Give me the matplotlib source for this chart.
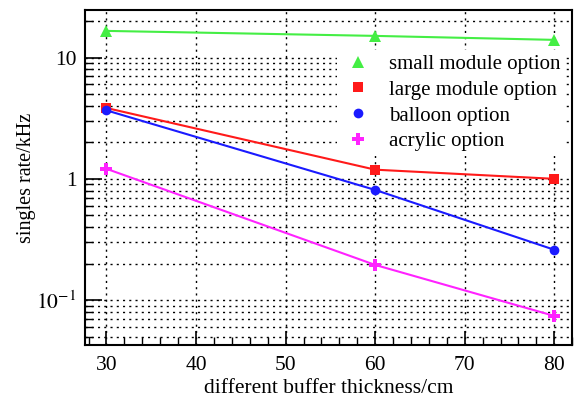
import matplotlib
matplotlib.use("Agg")
import matplotlib.pyplot as plt
from matplotlib.ticker import FixedLocator, FixedFormatter, LogLocator, NullFormatter, MultipleLocator

plt.rcParams['font.family'] = ['Liberation Serif', 'DejaVu Serif']
plt.rcParams['mathtext.fontset'] = 'stix'

thickness = [30, 60, 80]
small_module = [16.6, 15.1, 14.0]
large_module = [3.84, 1.19, 1.0]
balloon = [3.67, 0.81, 0.26]
acrylic = [1.21, 0.195, 0.074]
labels = ["small module option", "large module option", "balloon option", "acrylic option"]

fig = plt.figure(figsize=(5.78, 3.99), dpi=100)
ax = fig.add_axes([0.147, 0.135, 0.843, 0.84])

series = [
    (small_module, '#44ee44', '^', 8),
    (large_module, '#ff1a1a', 's', 7),
    (balloon, '#1a1aff', 'o', 7),
    (acrylic, '#ff22ff', 'P', 8),
]
for (vals, col, mk, ms), lab in zip(series, labels):
    ax.plot(thickness, vals, color=col, lw=1.5, zorder=3)
    ax.plot(thickness, vals, linestyle='none', marker=mk, color=col, ms=ms,
            markeredgewidth=0, label=lab, zorder=4)

ax.set_yscale('log')
ax.set_xlim(27.6, 82.0)
ax.set_ylim(0.0425, 24.7)

ax.yaxis.set_major_locator(FixedLocator([0.1, 1, 10]))
ax.yaxis.set_major_formatter(FixedFormatter([r'$10^{-1}$', '1', '10']))
ax.yaxis.set_minor_locator(LogLocator(base=10, subs=range(2, 10)))
ax.yaxis.set_minor_formatter(NullFormatter())
ax.xaxis.set_major_locator(MultipleLocator(10))
ax.xaxis.set_minor_locator(MultipleLocator(2))

ax.grid(True, which='major', axis='x', linestyle=(0, (1.5, 3)), color='black', lw=1.0)
ax.grid(True, which='both', axis='y', linestyle=(0, (1.5, 3)), color='black', lw=1.0)

ax.tick_params(axis='both', which='major', direction='in', length=12, width=1.2,
               labelsize=15.5, top=False, right=False)
ax.tick_params(axis='both', which='minor', direction='in', length=6, width=1.0,
               top=False, right=False)
ax.tick_params(axis='x', which='major', length=10, pad=8)
ax.tick_params(axis='y', which='major', pad=6)
for s in ax.spines.values():
    s.set_linewidth(1.5)

ax.set_xlabel("different buffer thickness/cm", fontsize=15.5, labelpad=3)
ax.set_ylabel("singles rate/kHz", fontsize=14.5, labelpad=0)

leg = ax.legend(loc='upper right', bbox_to_anchor=(0.984, 0.88), frameon=True,
                fontsize=15, handletextpad=0.7, labelspacing=0.3, borderaxespad=0.0,
                borderpad=0.2, handlelength=1.6, fancybox=False)
leg.get_frame().set_facecolor('white')
leg.get_frame().set_edgecolor('none')
leg.get_frame().set_alpha(1.0)
leg.set_zorder(5)

fig.savefig("out.png", dpi=100)
